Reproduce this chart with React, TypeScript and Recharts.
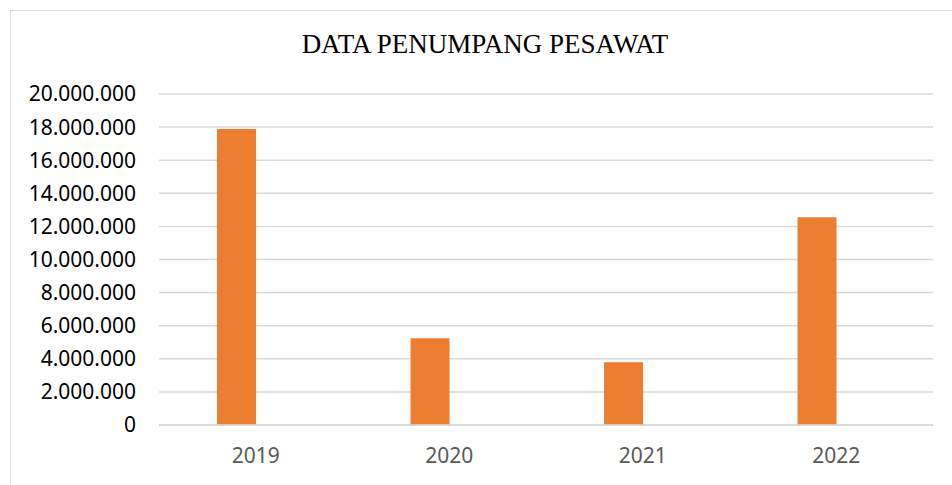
import { BarChart, Bar, XAxis, YAxis, CartesianGrid } from "recharts";

const years = ["2019", "2020", "2021", "2022"];
const passengers = [17880000, 5240000, 3790000, 12550000];
const secondSeries = [0, 0, 0, 0];
const yTicks = [0, 2000000, 4000000, 6000000, 8000000, 10000000, 12000000, 14000000, 16000000, 18000000, 20000000];

const data = years.map((year, i) => ({
  year,
  penumpang: passengers[i],
  kosong: secondSeries[i],
}));

const formatDots = (v: number) => String(v).replace(/\B(?=(\d{3})+(?!\d))/g, ".");

export default function App() {
  return (
    <div
      style={{
        position: "absolute",
        left: 0,
        top: 0,
        width: 952,
        height: 485,
        background: "#fff",
        overflow: "hidden",
      }}
    >
      <div
        style={{
          position: "absolute",
          left: 10,
          top: 10,
          width: 960,
          height: 500,
          border: "1.5px solid #d9d9d9",
        }}
      />
      <div
        style={{
          position: "absolute",
          left: 0,
          top: 29,
          width: 970,
          textAlign: "center",
          fontFamily: "'Liberation Serif', 'Times New Roman', serif",
          fontSize: 27,
          color: "#000",
        }}
      >
        DATA PENUMPANG PESAWAT
      </div>
      <div style={{ position: "absolute", left: 0, top: 0 }}>
        <BarChart
          width={952}
          height={485}
          data={data}
          margin={{ top: 94, right: 19, left: 0, bottom: 0 }}
          barCategoryGap="30%"
          barGap={0}
        >
          <CartesianGrid vertical={false} stroke="#d9d9d9" strokeWidth={1.5} />
          <XAxis
            dataKey="year"
            height={60}
            axisLine={{ stroke: "#d9d9d9", strokeWidth: 1.5 }}
            tickLine={false}
            tickSize={0}
            tickMargin={23}
            tick={{ fill: "#595959", fontSize: 21, fontFamily: "'Noto Sans', sans-serif" }}
          />
          <YAxis
            width={159}
            domain={[0, 20000000]}
            ticks={yTicks}
            interval={0}
            axisLine={false}
            tickLine={false}
            tickSize={0}
            tickMargin={23}
            tickFormatter={formatDots}
            tick={{ fill: "#000", fontSize: 21, fontFamily: "'Noto Sans', sans-serif" }}
          />
          <Bar dataKey="penumpang" fill="#ED7D31" isAnimationActive={false} />
          <Bar dataKey="kosong" fill="#A5A5A5" isAnimationActive={false} />
        </BarChart>
      </div>
    </div>
  );
}
